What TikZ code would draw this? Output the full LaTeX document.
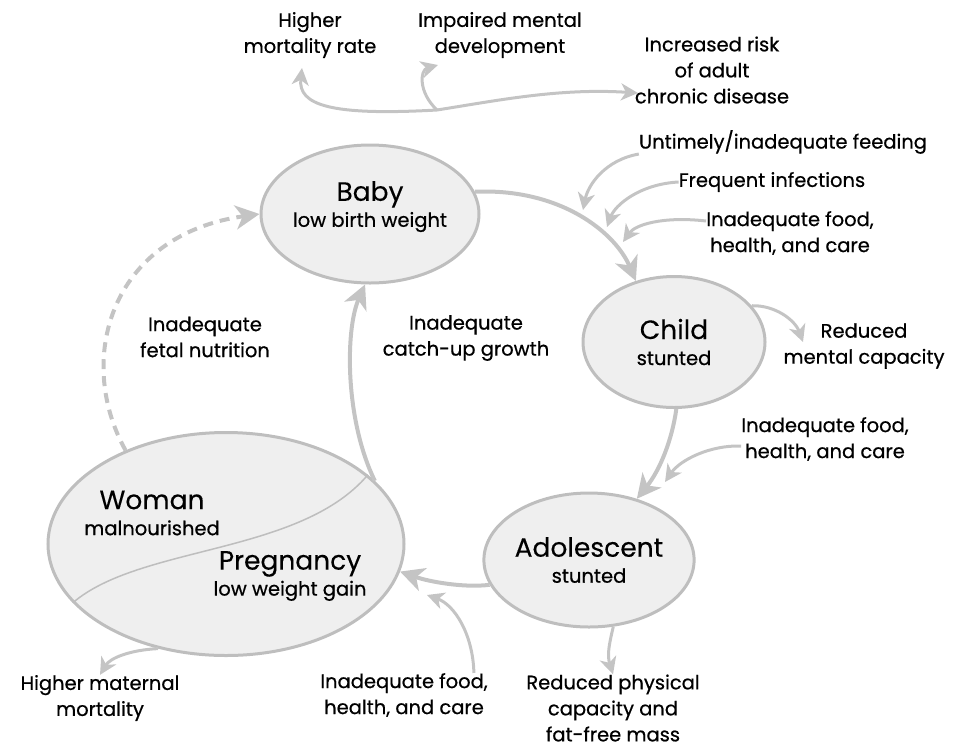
\documentclass[tikz,border=0pt]{standalone}
\usepackage{fontspec}
\setmainfont{Poppins}[FakeBold=0.6]
\newfontfamily\stagefamily{Poppins}[FakeBold=0.2]
\usetikzlibrary{shapes.geometric,arrows.meta}
\definecolor{linegray}{HTML}{C4C4C4}
\definecolor{fillgray}{HTML}{EFEFEF}
\definecolor{rimgray}{HTML}{BEBEBE}
\newcommand{\stagefont}{\stagefamily\fontsize{26.5}{27}\selectfont}
\newcommand{\notefont}{\fontsize{19.5}{26}\selectfont}
\begin{document}
\begin{tikzpicture}[x=1pt,y=-1pt]
	\tikzstyle{stage node}=[ellipse,draw=rimgray,fill=fillgray,line width=3pt,inner sep=0,align=center,font=\notefont]
	\tikzstyle{note node}=[align=center,inner sep=0,font=\notefont]
	\tikzstyle{cycle arrow}=[draw=linegray,line width=4pt,-{Stealth[length=24pt,width=24pt,inset=7pt]}]
	\tikzstyle{side arrow}=[draw=linegray,line width=3pt,-{Stealth[length=17pt,width=17pt,inset=5pt]}]
	\useasboundingbox (0,0) rectangle (953,748);
	% the four stages
	\node[stage node,minimum width=210pt,minimum height=138pt,text depth=20pt](baby) at (370,214) {{\stagefont Baby}\\low birth weight};
	\node[stage node,minimum width=182pt,minimum height=131pt](child) at (674,342) {{\stagefont Child}\\stunted};
	\node[stage node,minimum width=182pt,minimum height=134pt](adol) at (589,560) {{\stagefont Adolescent}\\stunted};
	\node[stage node,minimum width=356pt,minimum height=223pt](woman) at (226,544) {};
	\draw[draw=rimgray,line width=1.5pt](woman.201) .. controls (140,545) and (300,555) .. (woman.26);
	\node[note node](womanlbl) at (152,513) {{\stagefont Woman}\\malnourished};
	\node[note node](preglbl) at (290,576) {{\stagefont Pregnancy}\\low weight gain};
	% notes
	\node[note node](mortality) at (310,35) {Higher\\mortality rate};
	\node[note node](develop) at (500,35) {Impaired mental\\development};
	\node[note node](chronic) at (712,70) {Increased risk\\of adult\\chronic disease};
	\node[note node](feeding) at (783,142) {Untimely/inadequate feeding};
	\node[note node](infect) at (772,182) {Frequent infections};
	\node[note node](foodchild) at (790,233) {Inadequate food,\\health, and care};
	\node[note node](mental) at (864,346) {Reduced\\mental capacity};
	\node[note node](foodadol) at (825,439) {Inadequate food,\\health, and care};
	\node[note node](physical) at (613,708) {Reduced physical\\capacity and\\fat-free mass};
	\node[note node](foodpreg) at (404,695) {Inadequate food,\\health, and care};
	\node[note node](maternal) at (100,698) {Higher maternal\\mortality};
	\node[note node](fetal) at (205,337) {Inadequate\\fetal nutrition};
	\node[note node](catchup) at (466,338) {Inadequate\\catch-up growth};
	% free ends
	\coordinate(split) at (437,110);
	\coordinate(tipmort) at (302,68);
	\coordinate(tipdev) at (438,65);
	\coordinate(tipchron) at (638,93);
	\coordinate(tipfeed) at (583,210);
	\coordinate(tipinf) at (607,227);
	\coordinate(tipfood) at (623,242);
	\coordinate(tipmental) at (803,342);
	\coordinate(tipfoodadol) at (665,482);
	\coordinate(tipfoodpreg) at (427,595);
	% cycle
	\draw[cycle arrow](baby.12) .. controls (560,188) and (615,232) .. (child.122);
	\draw[cycle arrow](child.272) .. controls (672,440) and (660,470) .. (adol.52);
	\draw[cycle arrow](adol.194) .. controls (465,588) and (430,582) .. (woman.-9);
	\draw[cycle arrow](woman.23) .. controls (345,420) and (345,330) .. (baby.266);
	\draw[cycle arrow,dash pattern=on 10pt off 7pt](woman.137) .. controls (75,360) and (110,235) .. (baby.west);
	% causes and effects
	\draw[side arrow](feeding.south west) .. controls (605,160) and (588,185) .. (tipfeed);
	\draw[side arrow](infect.west) .. controls (640,184) and (615,205) .. (tipinf);
	\draw[side arrow]([yshift=12pt]foodchild.west) .. controls (662,216) and (635,225) .. (tipfood);
	\draw[side arrow](child.25) .. controls (775,305) and (795,320) .. (tipmental);
	\draw[side arrow]([yshift=-7pt]foodadol.west) .. controls (710,445) and (680,460) .. (tipfoodadol);
	\draw[side arrow]([xshift=-14pt]foodpreg.north east) .. controls (473,635) and (455,605) .. (tipfoodpreg);
	\draw[side arrow](woman.237) .. controls (130,650) and (110,658) .. (maternal.north);
	\draw[side arrow](adol.-70) .. controls (609,645) and (607,655) .. (physical.north);
	\draw[side arrow](split) .. controls (330,116) and (298,105) .. (tipmort);
	\draw[side arrow](split) .. controls (418,92) and (420,70) .. (tipdev);
	\draw[side arrow](split) .. controls (500,100) and (560,88) .. (tipchron);
\end{tikzpicture}
\end{document}
